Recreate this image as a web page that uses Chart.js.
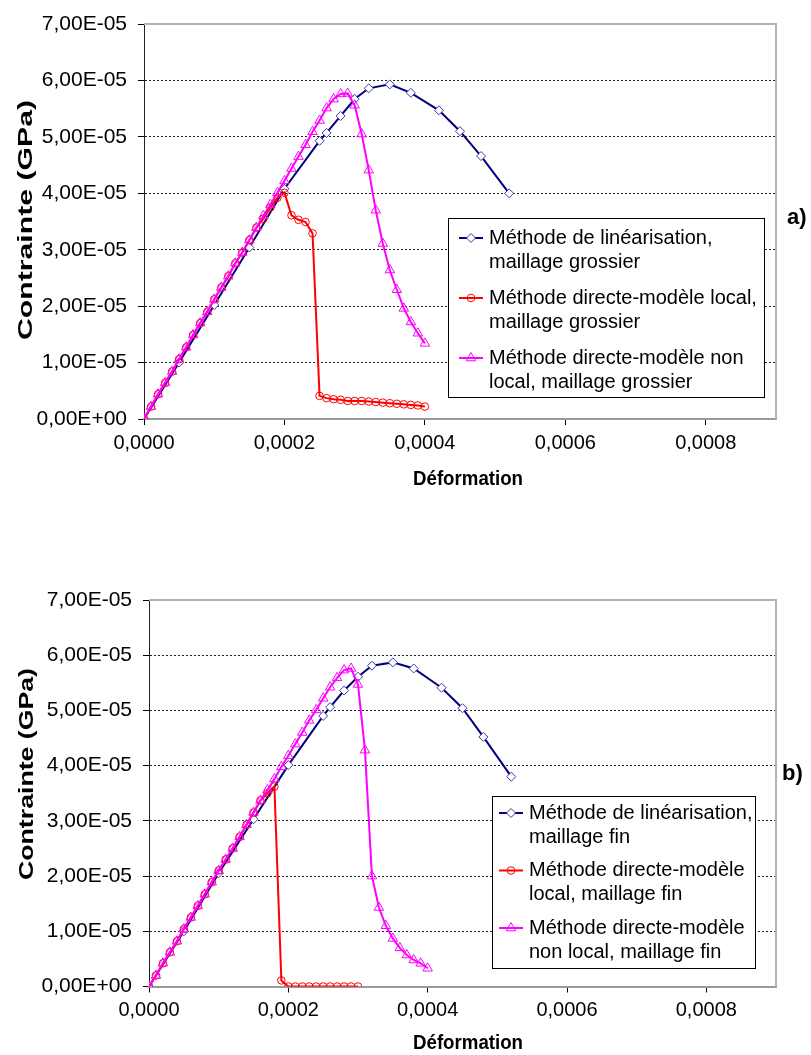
<!DOCTYPE html>
<html>
<head>
<meta charset="utf-8">
<script src="https://cdn.jsdelivr.net/npm/chart.js@4.4.0/dist/chart.umd.min.js"></script>
<style>
  html, body { margin: 0; padding: 0; background: #fff; }
  #wrap { position: relative; width: 811px; height: 1055px; }
  canvas { position: absolute; left: 0; }
</style>
</head>
<body>
<div id="wrap">
  <canvas id="chartA" width="811" height="527" style="top:0"></canvas>
  <canvas id="chartB" width="811" height="528" style="top:527px"></canvas>
</div>
<script>
// strain values (Déformation)
var strainStep = [0, 0.00001, 0.00002, 0.00003, 0.00004, 0.00005, 0.00006, 0.00007, 0.00008, 0.00009,
  0.0001, 0.00011, 0.00012, 0.00013, 0.00014, 0.00015, 0.00016, 0.00017, 0.00018, 0.00019,
  0.0002, 0.00021, 0.00022, 0.00023, 0.00024, 0.00025, 0.00026, 0.00027, 0.00028, 0.00029,
  0.0003, 0.00031, 0.00032, 0.00033, 0.00034, 0.00035, 0.00036, 0.00037, 0.00038, 0.00039, 0.0004];
var strainLin = [0, 0.00005, 0.0001, 0.00015, 0.0002, 0.00025, 0.00026, 0.00028, 0.0003, 0.00032,
  0.00035, 0.00038, 0.00042, 0.00045, 0.00048, 0.00052];

// a) maillage grossier - stress (GPa)
var linCoarse = [0, 1.00e-5, 2.02e-5, 3.04e-5, 4.08e-5, 4.93e-5, 5.07e-5, 5.37e-5, 5.67e-5, 5.86e-5,
  5.93e-5, 5.78e-5, 5.47e-5, 5.10e-5, 4.66e-5, 4.00e-5];
var localCoarse = [0, 0.22e-5, 0.44e-5, 0.64e-5, 0.84e-5, 1.06e-5, 1.27e-5, 1.49e-5, 1.70e-5, 1.90e-5,
  2.12e-5, 2.33e-5, 2.53e-5, 2.76e-5, 2.95e-5, 3.17e-5, 3.39e-5, 3.55e-5, 3.75e-5, 3.92e-5,
  4.01e-5, 3.61e-5, 3.53e-5, 3.49e-5, 3.29e-5, 0.41e-5, 0.37e-5, 0.35e-5, 0.34e-5, 0.32e-5,
  0.32e-5, 0.32e-5, 0.31e-5, 0.30e-5, 0.29e-5, 0.28e-5, 0.27e-5, 0.26e-5, 0.25e-5, 0.24e-5, 0.22e-5];
var nonLocalCoarse = [0, 0.22e-5, 0.44e-5, 0.64e-5, 0.84e-5, 1.06e-5, 1.27e-5, 1.49e-5, 1.70e-5, 1.90e-5,
  2.12e-5, 2.33e-5, 2.53e-5, 2.76e-5, 2.95e-5, 3.17e-5, 3.39e-5, 3.60e-5, 3.80e-5, 4.01e-5,
  4.22e-5, 4.44e-5, 4.65e-5, 4.86e-5, 5.09e-5, 5.29e-5, 5.51e-5, 5.67e-5, 5.76e-5, 5.77e-5,
  5.56e-5, 5.05e-5, 4.41e-5, 3.70e-5, 3.11e-5, 2.64e-5, 2.29e-5, 1.96e-5, 1.72e-5, 1.52e-5, 1.34e-5];

// b) maillage fin - stress (GPa)
var linFine = [0, 1.00e-5, 2.05e-5, 3.03e-5, 4.01e-5, 4.90e-5, 5.06e-5, 5.36e-5, 5.61e-5, 5.81e-5,
  5.87e-5, 5.76e-5, 5.41e-5, 5.04e-5, 4.52e-5, 3.80e-5];
var localFine = [0, 0.20e-5, 0.42e-5, 0.62e-5, 0.82e-5, 1.04e-5, 1.25e-5, 1.46e-5, 1.67e-5, 1.89e-5,
  2.10e-5, 2.30e-5, 2.50e-5, 2.71e-5, 2.93e-5, 3.15e-5, 3.37e-5, 3.50e-5, 3.62e-5, 0.11e-5,
  0, 0, 0, 0, 0, 0, 0, 0, 0, 0, 0];
var nonLocalFine = [0, 0.20e-5, 0.42e-5, 0.62e-5, 0.82e-5, 1.04e-5, 1.25e-5, 1.46e-5, 1.67e-5, 1.89e-5,
  2.10e-5, 2.30e-5, 2.50e-5, 2.71e-5, 2.93e-5, 3.15e-5, 3.37e-5, 3.56e-5, 3.76e-5, 3.98e-5,
  4.18e-5, 4.39e-5, 4.60e-5, 4.82e-5, 5.01e-5, 5.22e-5, 5.42e-5, 5.59e-5, 5.73e-5, 5.76e-5,
  5.47e-5, 4.28e-5, 2.00e-5, 1.43e-5, 1.10e-5, 0.87e-5, 0.70e-5, 0.57e-5, 0.48e-5, 0.42e-5, 0.33e-5];

// axis ticks
var xTicks = [0, 0.0002, 0.0004, 0.0006, 0.0008];
var yTicks = [0, 1e-5, 2e-5, 3e-5, 4e-5, 5e-5, 6e-5, 7e-5];

var legendCoarse = [
  ['Méthode de linéarisation,', 'maillage grossier'],
  ['Méthode directe-modèle local,', 'maillage grossier'],
  ['Méthode directe-modèle non', 'local, maillage grossier']
];
var legendFine = [
  ['Méthode de linéarisation,', 'maillage fin'],
  ['Méthode directe-modèle', 'local, maillage fin'],
  ['Méthode directe-modèle', 'non local, maillage fin']
];

var FONT = "'Liberation Sans', Arial, sans-serif";
Chart.defaults.font.family = FONT;
Chart.defaults.color = '#000';

function pts(xs, ys) {
  return ys.map(function (y, i) { return {x: xs[i], y: y}; });
}

function sciLabel(v) {
  if (Math.abs(v) < 1e-12) return '0,00E+00';
  var p = v.toExponential(2).split('e');
  var ex = parseInt(p[1], 10);
  return p[0].replace('.', ',') + 'E' + (ex < 0 ? '-' : '+') + String(Math.abs(ex)).padStart(2, '0');
}

// stretched text, like the source picture
function drawTitle(ctx, t, rotate) {
  ctx.save();
  ctx.font = 'bold 20px ' + FONT;
  ctx.textAlign = 'center';
  ctx.textBaseline = 'middle';
  ctx.fillStyle = '#000';
  var w = ctx.measureText(t.text).width;
  ctx.translate(t.x, t.y);
  if (rotate) ctx.rotate(-Math.PI / 2);
  ctx.scale(t.len / w, 1);
  ctx.fillText(t.text, 0, 0);
  ctx.restore();
}

var extras = {
  id: 'extras',
  afterDraw: function (chart, args, o) {
    var ctx = chart.ctx, a = chart.chartArea;
    ctx.save();
    // plot area border top / right
    ctx.strokeStyle = '#b4b4b4';
    ctx.lineWidth = 2;
    ctx.beginPath();
    ctx.moveTo(a.left, a.top);
    ctx.lineTo(a.right, a.top);
    ctx.lineTo(a.right, a.bottom);
    ctx.stroke();

    // legend box
    var L = o.legend;
    ctx.fillStyle = '#fff';
    ctx.fillRect(L.x, L.y, L.w, L.h);
    ctx.strokeStyle = '#000';
    ctx.lineWidth = 1;
    ctx.strokeRect(L.x + 0.5, L.y + 0.5, L.w, L.h);
    ctx.font = '20px ' + FONT;
    ctx.textBaseline = 'middle';
    ctx.textAlign = 'left';
    chart.data.datasets.forEach(function (ds, i) {
      var cy = L.y + L.first + i * L.gap;
      ctx.strokeStyle = ds.borderColor;
      ctx.lineWidth = ds.borderWidth;
      ctx.beginPath();
      ctx.moveTo(L.x + L.s0, cy);
      ctx.lineTo(L.x + L.s1, cy);
      ctx.stroke();
      ctx.fillStyle = ds.pointBackgroundColor;
      ctx.strokeStyle = ds.pointBorderColor;
      ctx.lineWidth = 1;
      Chart.helpers.drawPoint(ctx, {pointStyle: ds.pointStyle, radius: ds.pointRadius, borderWidth: 1, rotation: 0},
        L.x + (L.s0 + L.s1) / 2, cy);
      ctx.fillStyle = '#000';
      L.lines[i].forEach(function (t, j) {
        ctx.fillText(t, L.x + L.tx, cy + j * L.lh);
      });
    });

    drawTitle(ctx, o.yTitle, true);
    drawTitle(ctx, o.xTitle, false);

    // panel tag
    ctx.font = 'bold 22px ' + FONT;
    ctx.textAlign = 'left';
    ctx.textBaseline = 'middle';
    ctx.fillStyle = '#000';
    ctx.fillText(o.tag.text, o.tag.x, o.tag.y);
    ctx.restore();
  }
};

function makeChart(id, series, labels, geo) {
  var names = labels.map(function (l) { return l.join(' '); });
  return new Chart(document.getElementById(id), {
    type: 'line',
    data: {
      datasets: [{
        label: names[0],
        data: pts(strainLin, series[0]),
        borderColor: '#000080',
        borderWidth: 2,
        pointStyle: 'rectRot',
        pointRadius: 4.5,
        pointBorderWidth: 1,
        pointBorderColor: '#3a3aa8',
        pointBackgroundColor: '#ffffff',
        order: 3
      }, {
        label: names[1],
        data: pts(strainStep, series[1]),
        borderColor: '#ff0000',
        borderWidth: 2,
        pointStyle: 'circle',
        pointRadius: 3.8,
        pointBorderWidth: 1,
        pointBorderColor: '#ff0000',
        pointBackgroundColor: 'rgba(255,255,255,0)',
        order: 2
      }, {
        label: names[2],
        data: pts(strainStep, series[2]),
        borderColor: '#ff00ff',
        borderWidth: 2,
        pointStyle: 'triangle',
        pointRadius: 5.5,
        pointBorderWidth: 1,
        pointBorderColor: '#ff00ff',
        pointBackgroundColor: 'rgba(255,255,255,0)',
        order: 1
      }]
    },
    options: {
      responsive: false,
      animation: false,
      layout: {padding: {top: geo.top, right: 35, left: 0, bottom: 0}},
      plugins: {
        legend: {display: false},
        tooltip: {enabled: false},
        extras: {legend: geo.legend, yTitle: geo.yTitle, xTitle: geo.xTitle, tag: geo.tag}
      },
      scales: {
        x: {
          type: 'linear',
          min: 0,
          max: 0.0009,
          afterBuildTicks: function (s) { s.ticks = xTicks.map(function (v) { return {value: v}; }); },
          afterFit: function (s) { s.height = geo.xHeight; },
          ticks: {
            font: {size: 20},
            padding: 6,
            maxRotation: 0,
            callback: function (v) { return v.toFixed(4).replace('.', ','); }
          },
          grid: {drawOnChartArea: false, drawTicks: true, tickLength: 6, tickColor: '#000'},
          border: {color: '#9a9a9a', width: 2}
        },
        y: {
          type: 'linear',
          min: 0,
          max: 7e-5,
          afterBuildTicks: function (s) { s.ticks = yTicks.map(function (v) { return {value: v}; }); },
          afterFit: function (s) { s.width = geo.left; },
          ticks: {
            font: {size: 21},
            padding: 11,
            callback: function (v) { return sciLabel(v); }
          },
          grid: {
            color: function (c) {
              var v = c.tick ? c.tick.value : 0;
              return (v > 1e-7 && v < 6.9e-5) ? '#222' : 'rgba(0,0,0,0)';
            },
            lineWidth: 1,
            tickLength: 6,
            tickColor: '#000'
          },
          border: {color: '#222', width: 1, dash: [2, 2]}
        }
      }
    },
    plugins: [extras]
  });
}

makeChart('chartA', [linCoarse, localCoarse, nonLocalCoarse], legendCoarse, {
  top: 24, left: 144, xHeight: 108,
  legend: {x: 448, y: 218, w: 316, h: 179, first: 20, lh: 24, gap: 60, s0: 11, s1: 35, tx: 41, lines: legendCoarse},
  yTitle: {text: 'Contrainte (GPa)', x: 26, y: 220, len: 240},
  xTitle: {text: 'Déformation', x: 468, y: 479, len: 110},
  tag: {text: 'a)', x: 787, y: 218}
});

makeChart('chartB', [linFine, localFine, nonLocalFine], legendFine, {
  top: 73, left: 149, xHeight: 68.5,
  legend: {x: 492, y: 269, w: 263, h: 172, first: 17, lh: 24, gap: 57.5, s0: 7, s1: 31, tx: 37, lines: legendFine},
  yTitle: {text: 'Contrainte (GPa)', x: 27, y: 247, len: 212},
  xTitle: {text: 'Déformation', x: 468, y: 516, len: 110},
  tag: {text: 'b)', x: 782, y: 247}
});
</script>
</body>
</html>
